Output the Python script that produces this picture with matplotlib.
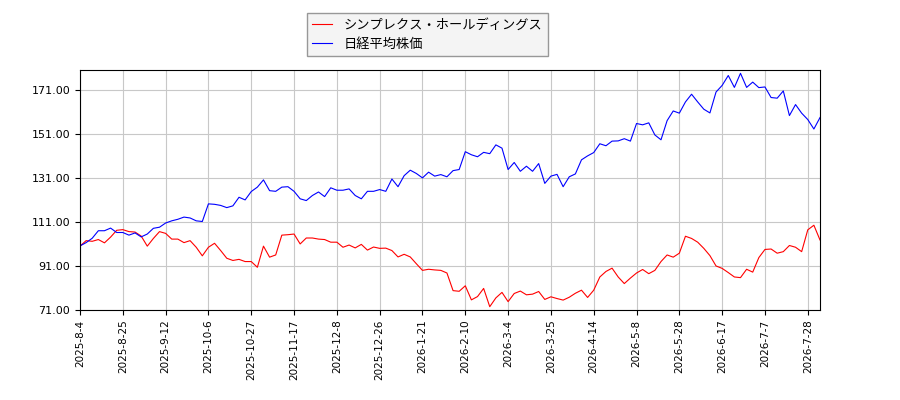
import matplotlib
matplotlib.use('Agg')
from matplotlib import pyplot as plt
import numpy as np

plt.rcParams['font.family'] = ['Noto Sans CJK JP', 'DejaVu Sans']

# trading-day index, one value every 2 sessions
days = np.arange(0, 243, 2)

simplex = [100, 102.5, 102.2, 103, 101.5, 104.1, 107.2, 107.5, 106.6, 106.4,
           104.6, 100, 103.5, 106.6, 105.8, 103.2, 103.2, 101.6, 102.5, 99.5,
           95.6, 99.5, 101.3, 98, 94.5, 93.5, 94, 93, 93, 90.4,
           100, 95, 96, 105, 105.2, 105.5, 101, 103.7, 103.7, 103.2,
           103, 101.8, 101.8, 99.5, 100.5, 99.2, 100.8, 98.2, 99.6, 99,
           99.1, 98, 95.1, 96.3, 95.1, 92, 89, 89.5, 89.2, 89,
           87.8, 79.8, 79.5, 82, 75.6, 77.1, 80.8, 72.5, 76.5, 79,
           74.8, 78.5, 79.6, 77.9, 78.2, 79.4, 75.8, 77, 76.2, 75.5,
           76.8, 78.6, 80, 76.7, 80, 86, 88.5, 90, 86, 83,
           85.5, 87.8, 89.4, 87.5, 89, 93, 96, 95, 96.8, 104.5,
           103.5, 101.8, 99, 95.7, 91, 89.9, 88, 86, 85.7, 89.5,
           88.2, 94.8, 98.5, 98.7, 96.8, 97.5, 100.3, 99.5, 97.5, 107.4,
           109.5, 102.8]

nikkei = [100.1, 101.6, 103.6, 107, 107, 108.2, 106.2, 106.2, 105, 106,
          104.2, 105.5, 108.1, 108.6, 110.5, 111.5, 112.2, 113.2, 112.8, 111.5,
          111.2, 119.2, 119, 118.5, 117.5, 118.3, 122.2, 121, 124.8, 126.8,
          130.1, 125.2, 124.9, 126.8, 127, 124.9, 121.5, 120.7, 123, 124.6,
          122.5, 126.5, 125.4, 125.4, 126, 123, 121.5, 124.9, 124.9, 125.7,
          124.9, 130.5, 127, 132, 134.5, 133, 131, 133.6, 131.8, 132.5,
          131.5, 134.3, 134.8, 142.9, 141.5, 140.6, 142.6, 142, 146, 144.5,
          134.8, 138, 134, 136.3, 134, 137.5, 128.5, 131.8, 132.6, 127,
          131.5, 132.8, 139.2, 141, 142.5, 146.5, 145.6, 147.7, 147.8, 148.8,
          147.7, 155.7, 155.1, 156, 150.5, 148.3, 157, 161.4, 160.4, 165.5,
          169, 165.5, 162.2, 160.5, 170, 173, 177.5, 172.1, 178.5, 172.1,
          174.5, 172, 172.3, 167.5, 167.2, 170.5, 159.3, 164.3, 160.4, 157.5,
          153.2, 158.4]

tick_days = np.arange(0, 239, 14)
tick_labels = ['2025-8-4', '2025-8-25', '2025-9-12', '2025-10-6', '2025-10-27',
               '2025-11-17', '2025-12-8', '2025-12-26', '2026-1-21', '2026-2-10',
               '2026-3-4', '2026-3-25', '2026-4-14', '2026-5-8', '2026-5-28',
               '2026-6-17', '2026-7-7', '2026-7-28']
y_ticks = [71, 91, 111, 131, 151, 171]

fig = plt.figure(figsize=(9, 4), dpi=100)
ax = fig.add_axes([80 / 900, 90 / 400, 740 / 900, 240 / 400])
ax.plot(days, simplex, color='red', linewidth=0.8, label='シンプレクス・ホールディングス')
ax.plot(days, nikkei, color='blue', linewidth=0.8, label='日経平均株価')

ax.set_xlim(0, 242)
ax.set_ylim(71, 180)
ax.set_xticks(tick_days)
ax.set_xticklabels(tick_labels, rotation=90, fontsize=7.5, family='DejaVu Sans')
ax.set_yticks(y_ticks)
ax.set_yticklabels(['%.2f' % v for v in y_ticks], fontsize=8, family='DejaVu Sans')
ax.grid(True, color='#c8c8c8', linewidth=0.8)
ax.set_axisbelow(True)

leg = fig.legend(loc='upper left', bbox_to_anchor=(307 / 900, 1 - 13 / 400),
                 fontsize=9.5, frameon=True, fancybox=False, borderaxespad=0,
                 handlelength=1.5, handletextpad=0.9)
leg.get_frame().set_facecolor('#f2f2f2')
leg.get_frame().set_edgecolor('#808080')

fig.savefig('out.png')
